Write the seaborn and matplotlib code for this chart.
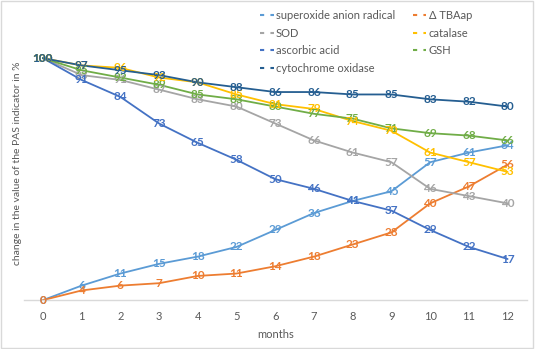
import matplotlib
matplotlib.use("Agg")
import matplotlib.pyplot as plt
from matplotlib.lines import Line2D
from matplotlib.patches import Rectangle
import seaborn as sns
import pandas as pd

months = list(range(13))
series = ["superoxide anion radical", "\u0394 TBAap", "SOD", "catalase",
          "ascorbic acid", "GSH", "cytochrome oxidase"]
superoxide = [0, 6, 11, 15, 18, 22, 29, 36, 41, 45, 57, 61, 64]
tbaap = [0, 4, 6, 7, 10, 11, 14, 18, 23, 28, 40, 47, 56]
sod = [100, 93, 91, 87, 83, 80, 73, 66, 61, 57, 46, 43, 40]
catalase = [100, 97, 96, 92, 90, 85, 81, 79, 74, 70, 61, 57, 53]
ascorbic = [100, 91, 84, 73, 65, 58, 50, 46, 41, 37, 29, 22, 17]
gsh = [100, 95, 92, 89, 85, 83, 80, 77, 75, 71, 69, 68, 66]
cytochrome = [100, 97, 95, 93, 90, 88, 86, 86, 85, 85, 83, 82, 80]
values = [superoxide, tbaap, sod, catalase, ascorbic, gsh, cytochrome]
colors = ["#5B9BD5", "#ED7D31", "#A5A5A5", "#FFC000", "#4472C4", "#70AD47", "#255E91"]

rows = []
for name, vals in zip(series, values):
    for m, v in zip(months, vals):
        rows.append({"month": m, "value": v, "series": name})
df = pd.DataFrame(rows)

sns.set_theme(style="white")
plt.rcParams["font.family"] = ["Lato", "DejaVu Sans"]

fig = plt.figure(figsize=(5.35, 3.49), dpi=100)
ax = fig.add_axes([0.044, 0.140, 0.941, 0.832])

sns.lineplot(data=df, x="month", y="value", hue="series", hue_order=series,
             palette=colors, ax=ax, legend=False, linewidth=1.3)

# data labels
draw_order = [0, 1, 2, 4, 5, 3, 6]
for i in draw_order:
    for m, v in zip(months, values[i]):
        ax.text(m, v, str(v), color=colors[i], fontsize=8.5, fontweight="bold",
                ha="center", va="center", zorder=5)

ax.set_xlim(-0.5, 12.5)
ax.set_ylim(0, 120)
ax.set_xticks(months)
ax.set_xticklabels([str(m) for m in months])
ax.set_yticks([])
ax.tick_params(axis="x", length=0, labelsize=8, labelcolor="#595959", pad=8)
for s in ["top", "right", "left"]:
    ax.spines[s].set_visible(False)
ax.spines["bottom"].set_color("#D9D9D9")
ax.spines["bottom"].set_linewidth(1)
ax.set_xlabel("months", fontsize=8, color="#595959", labelpad=5)
ax.set_ylabel("change in the value of the PAS indicator in %", fontsize=7.5,
              color="#595959")
ax.yaxis.set_label_coords(-0.004, 0.47)

# legend (column-wise order)
leg_order = [0, 2, 4, 6, 1, 3, 5]
handles = [Line2D([0], [0], color=colors[i], lw=1.5, linestyle=(0, (2, 3)))
           for i in leg_order]
labels = [series[i] for i in leg_order]
fig.legend(handles, labels, ncol=2, loc="upper left",
           bbox_to_anchor=(0.468, 1.0), frameon=False, fontsize=8,
           handlelength=1.2, handletextpad=0.2, columnspacing=1.6,
           labelspacing=0.6, labelcolor="#595959")

fig.patches.append(Rectangle((0.002, 0.003), 0.995, 0.994, transform=fig.transFigure,
                             fill=False, edgecolor="#D9D9D9", linewidth=1))

fig.savefig("out.png", dpi=100)
